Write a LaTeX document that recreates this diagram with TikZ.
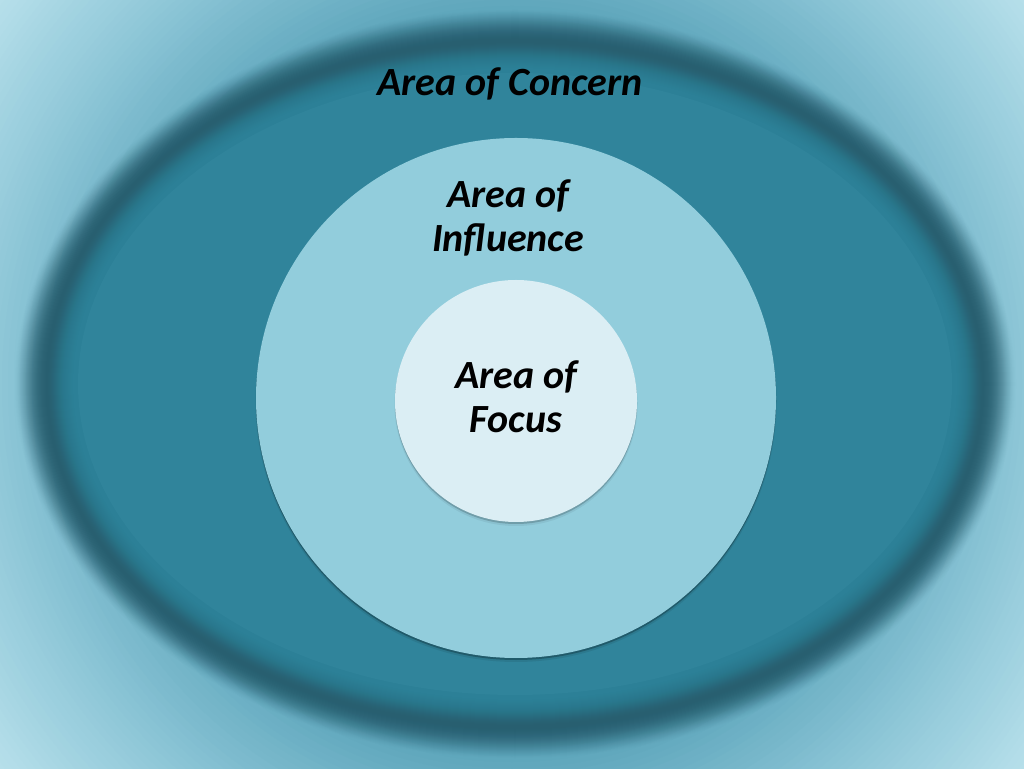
\documentclass[tikz,border=0pt]{standalone}
\usepackage{fontspec}
\setmainfont{Carlito}
\definecolor{bgIn}{HTML}{4F9CB3}
\definecolor{bgMid}{HTML}{8DC6D7}
\definecolor{bgOut}{HTML}{B6DFEA}
\definecolor{ringdark}{HTML}{285F70}
\definecolor{concernfill}{HTML}{30849B}
\definecolor{inflfill}{HTML}{92CDDC}
\definecolor{focusfill}{HTML}{DBEEF4}
\tikzset{
  label text/.style={font=\fontsize{40}{44}\selectfont\bfseries\itshape, text=black, inner sep=0pt, align=center},
  disc/.style={circle, inner sep=0pt, draw=none},
}
\begin{document}
\begin{tikzpicture}[x=1pt,y=1pt]
\useasboundingbox (0,0) rectangle (1024,768);
\coordinate (M) at (512,384);
% background: circular gradient, light in the corners
\fill[bgOut] (0,0) rectangle (1024,768);
\foreach \r in {660,654,...,300}{
  \pgfmathsetmacro\pa{int(max(0,min(100,(\r-512)/128*100)))}
  \pgfmathsetmacro\pb{int(max(0,min(100,(\r-330)/182*100)))}
  \ifdim\r pt>512pt
    \fill[bgOut!\pa!bgMid] (M) circle [radius=\r];
  \else
    \fill[bgMid!\pb!bgIn] (M) circle [radius=\r];
  \fi
}
\coordinate (C) at (515,384);
% soft dark rim of the area of concern
\foreach \d in {30,29,...,-2}{
  \pgfmathsetmacro\a{0.015+0.16*(30-\d)/32}
  \fill[ringdark, opacity=\a] (C) ellipse [x radius=470+\d, y radius=344+\d];
}
\foreach \d in {-3,-4,...,-32}{
  \pgfmathsetmacro\a{0.03+0.2*(-3-\d)/29}
  \fill[concernfill, opacity=\a] (C) ellipse [x radius=470+\d, y radius=344+\d];
}
\fill[concernfill] (C) ellipse [x radius=437, y radius=311];
% area of influence
\fill[black, opacity=0.08] (516,366.5) circle [radius=260.5];
\fill[black, opacity=0.25] (516,368) circle [radius=260];
\node[disc, fill=inflfill, minimum size=520pt] (influence) at (516,370) {};
% area of focus
\fill[black, opacity=0.06] (516,363.5) circle [radius=121.5];
\fill[black, opacity=0.18] (516,365) circle [radius=121];
\node[disc, fill=focusfill, minimum size=242pt] (focus) at (516,367) {};
% labels
\node[label text, anchor=base] (tconcern) at (510,672) {Area of Concern};
\node[label text, anchor=base] (tinfluence) at (508,516) {Area of\\Influence};
\node[label text, anchor=base] (tfocus) at (516,335) {Area of\\Focus};
\end{tikzpicture}
\end{document}
